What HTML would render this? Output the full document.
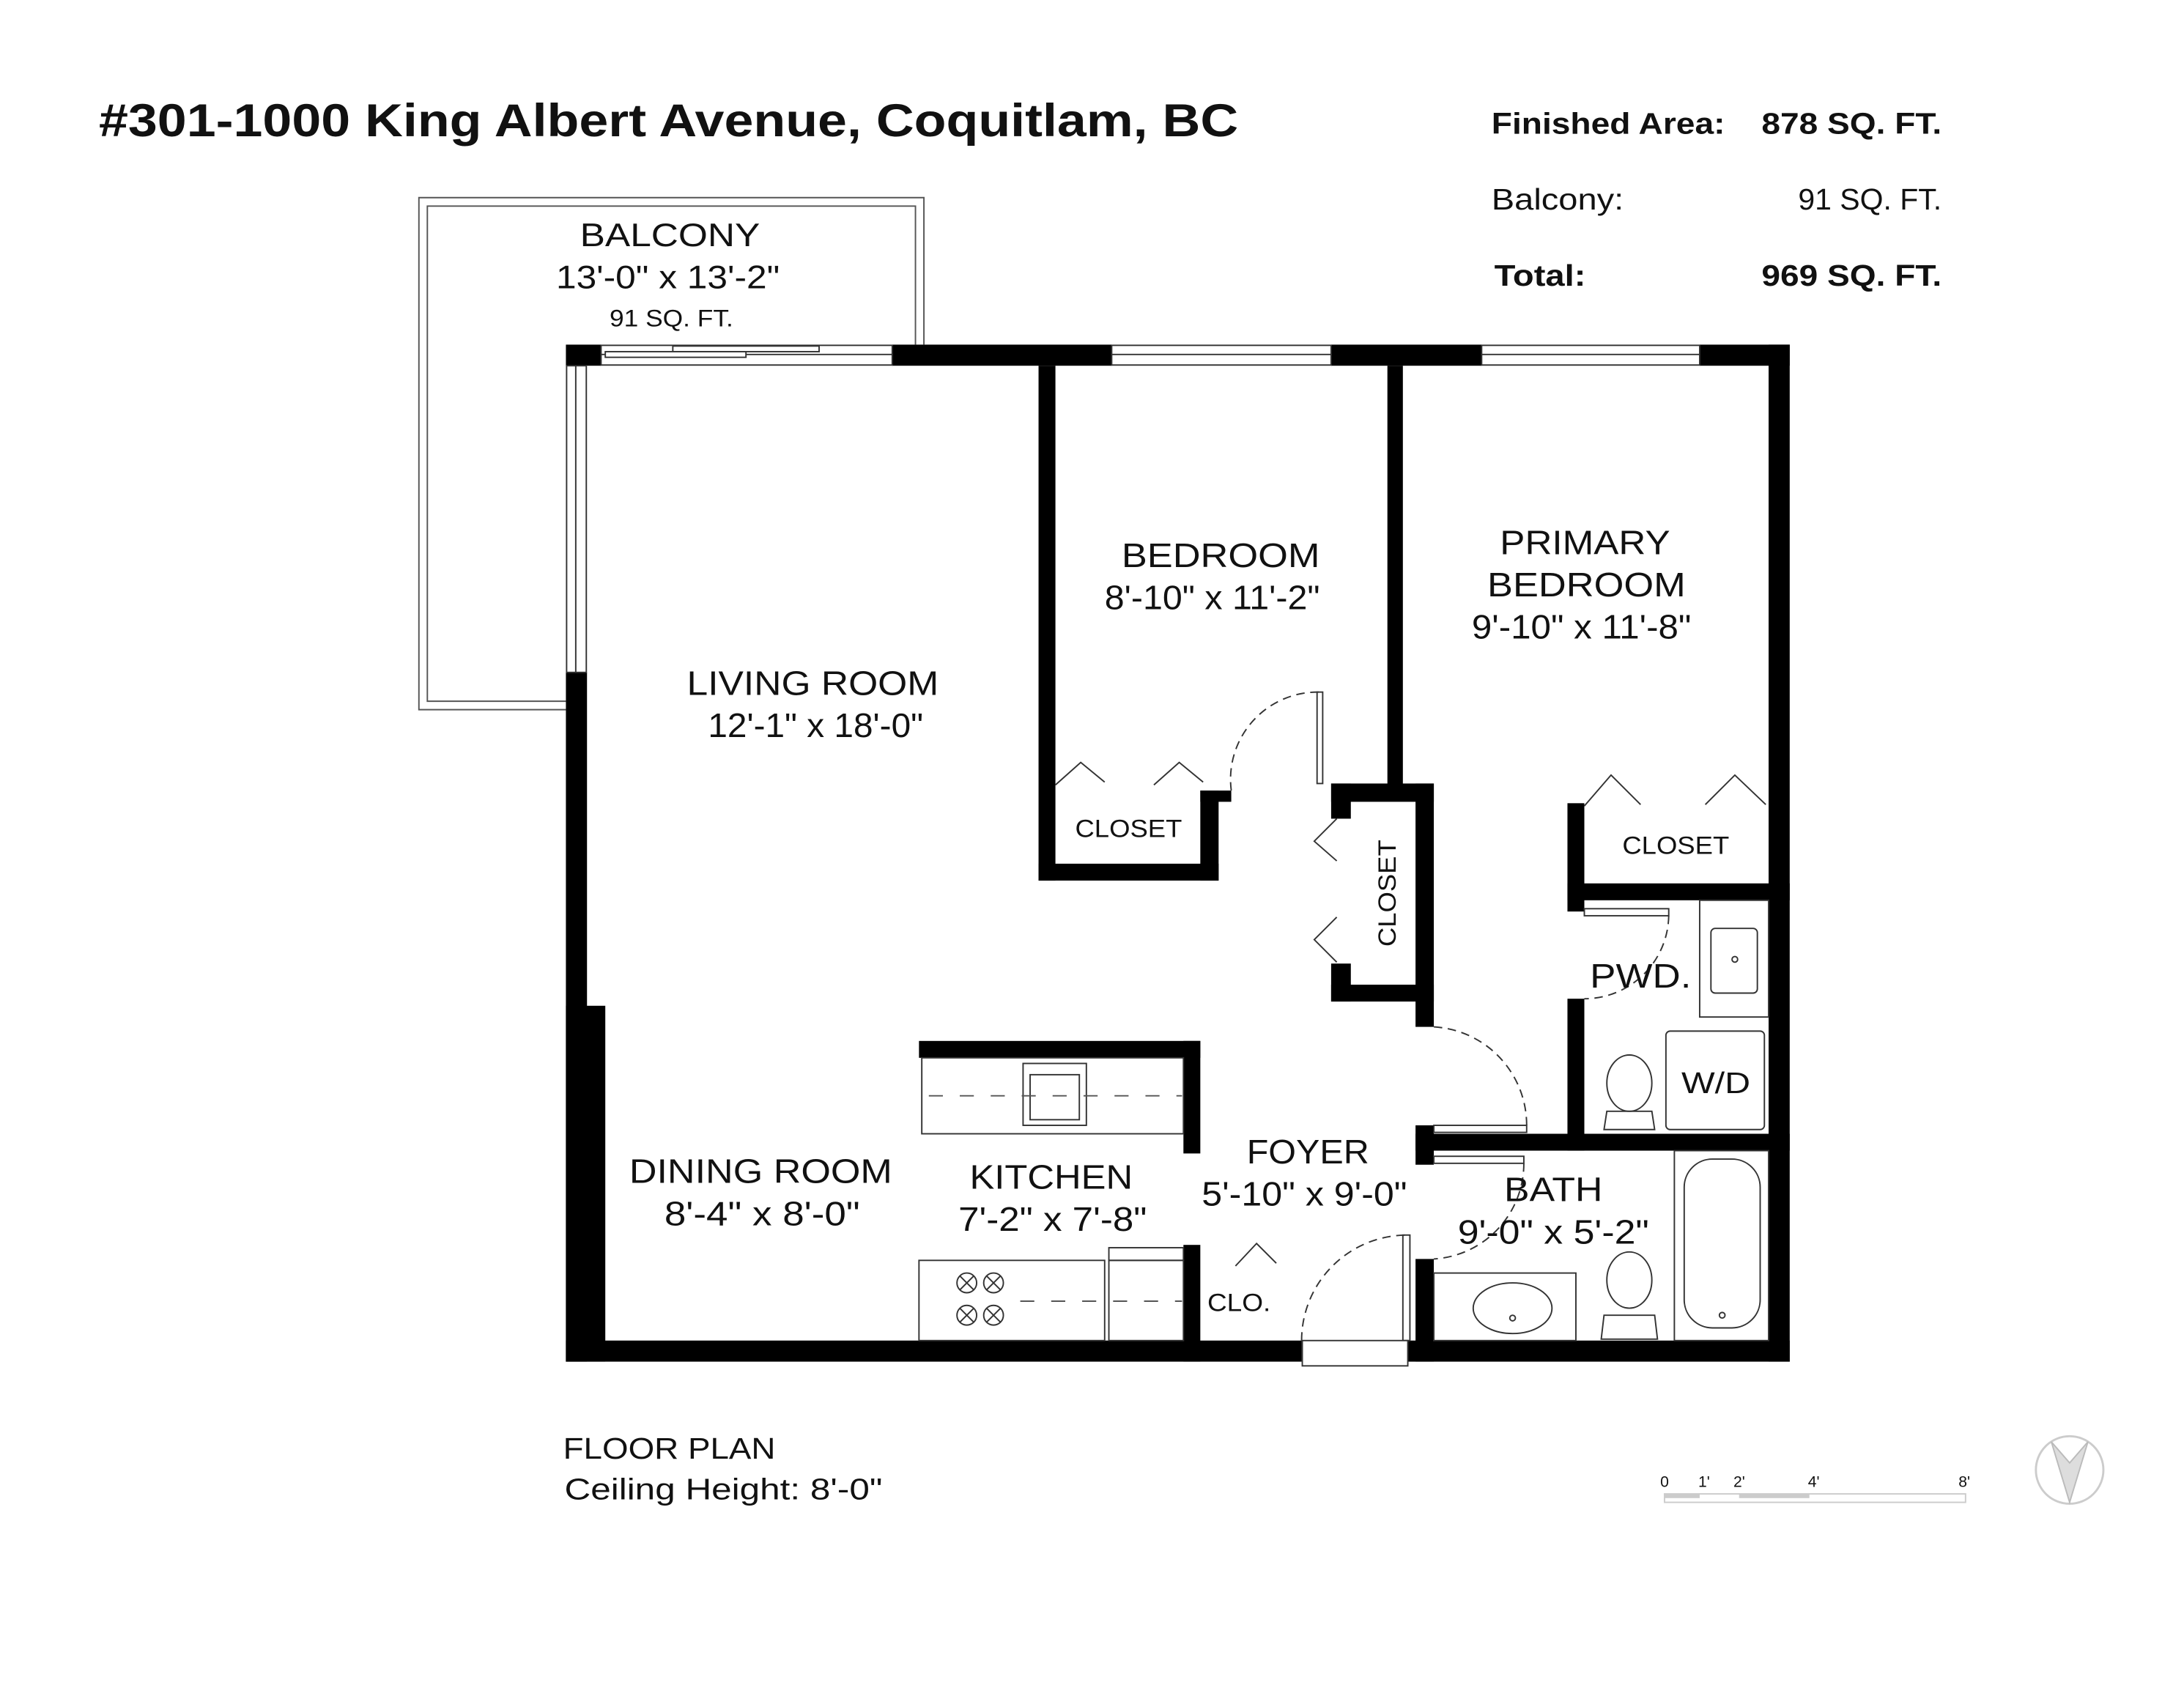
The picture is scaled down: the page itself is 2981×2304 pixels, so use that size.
<!DOCTYPE html>
<html><head><meta charset="utf-8"><style>
html,body{margin:0;padding:0;background:#fff;}
svg{display:block;}
text{font-family:"Liberation Sans",sans-serif;fill:#111;}
</style></head><body>
<svg width="2981" height="2304" viewBox="0 0 1552 1200" xmlns="http://www.w3.org/2000/svg">
<rect width="1552" height="1200" fill="#fff"/>
<!-- header -->
<text x="70" y="97" font-size="33" font-weight="bold" textLength="810" lengthAdjust="spacingAndGlyphs">#301-1000 King Albert Avenue, Coquitlam, BC</text>
<text x="1060" y="95" font-size="21" font-weight="bold" textLength="166" lengthAdjust="spacingAndGlyphs">Finished Area:</text>
<text x="1252" y="95" font-size="21" font-weight="bold" textLength="128" lengthAdjust="spacingAndGlyphs">878 SQ. FT.</text>
<text x="1060" y="149" font-size="21" fill="#444" textLength="94" lengthAdjust="spacingAndGlyphs">Balcony:</text>
<text x="1278" y="149" font-size="21" fill="#444" textLength="102" lengthAdjust="spacingAndGlyphs">91 SQ. FT.</text>
<text x="1062" y="203" font-size="21" font-weight="bold" textLength="65" lengthAdjust="spacingAndGlyphs">Total:</text>
<text x="1252" y="203" font-size="21" font-weight="bold" textLength="128" lengthAdjust="spacingAndGlyphs">969 SQ. FT.</text>

<!-- balcony -->
<path d="M402 504.5 L297.5 504.5 L297.5 140.5 L656.5 140.5 L656.5 245" fill="none" stroke="#555" stroke-width="1"/>
<path d="M402 498.5 L303.5 498.5 L303.5 146.5 L650.5 146.5 L650.5 245" fill="none" stroke="#555" stroke-width="1"/>
<text x="412" y="175" font-size="23" textLength="128" lengthAdjust="spacingAndGlyphs">BALCONY</text>
<text x="395" y="205" font-size="23" textLength="159" lengthAdjust="spacingAndGlyphs">13'-0" x 13'-2"</text>
<text x="433" y="232" font-size="17" textLength="88" lengthAdjust="spacingAndGlyphs">91 SQ. FT.</text>

<g fill="#000">
<rect x="402" y="245" width="25" height="15"/>
<rect x="634" y="245" width="156" height="15"/>
<rect x="946" y="245" width="107" height="15"/>
<rect x="1208" y="245" width="64" height="15"/>
<rect x="1257" y="245" width="15" height="723"/>
<rect x="402" y="953" width="523" height="15"/>
<rect x="1000" y="953" width="272" height="15"/>
<rect x="402" y="478" width="15" height="490"/>
<rect x="402" y="715" width="28" height="253"/>
<rect x="738" y="260" width="12" height="366"/>
<rect x="738" y="614" width="128" height="12"/>
<rect x="853" y="562" width="13" height="64"/>
<rect x="853" y="562" width="22" height="8"/>
<rect x="986" y="260" width="11" height="300"/>
<rect x="946" y="557" width="73" height="13"/>
<rect x="1006" y="557" width="13" height="173"/>
<rect x="946" y="557" width="14" height="25"/>
<rect x="946" y="685" width="14" height="27"/>
<rect x="946" y="700" width="73" height="12"/>
<rect x="1006" y="800" width="13" height="28"/>
<rect x="1006" y="895" width="13" height="73"/>
<rect x="1006" y="806" width="266" height="12"/>
<rect x="1114" y="571" width="12" height="77"/>
<rect x="1114" y="710" width="12" height="108"/>
<rect x="1114" y="628" width="158" height="12"/>
<rect x="653" y="740" width="200" height="12"/>
<rect x="841" y="740" width="12" height="80"/>
<rect x="841" y="885" width="12" height="83"/>
</g>

<g fill="#fff" stroke="#333" stroke-width="1">
<rect x="427" y="245.5" width="207" height="14"/>
<rect x="790" y="245.5" width="156" height="14"/>
<rect x="1053" y="245.5" width="155" height="14"/>
<rect x="402.5" y="260" width="14" height="218"/>
</g>
<line x1="427" y1="252" x2="634" y2="252" stroke="#333" stroke-width="1"/>
<line x1="790" y1="252" x2="946" y2="252" stroke="#333" stroke-width="1"/>
<line x1="1053" y1="252" x2="1208" y2="252" stroke="#333" stroke-width="1"/>
<line x1="409" y1="260" x2="409" y2="478" stroke="#333" stroke-width="1"/>
<rect x="478" y="246" width="104" height="4" fill="#fff" stroke="#333" stroke-width="1"/>
<rect x="430" y="250" width="100" height="4" fill="#fff" stroke="#333" stroke-width="1"/>

<g fill="none" stroke="#333" stroke-width="1">
<rect x="936" y="492" width="4" height="65" fill="#fff"/>
<path d="M875 562 A62 62 0 0 1 938 492" stroke-dasharray="6 4"/>
<rect x="1019" y="800" width="66" height="5" fill="#fff"/>
<path d="M1019 730 A70 70 0 0 1 1085 800" stroke-dasharray="6 4"/>
<rect x="1019" y="822" width="64" height="5" fill="#fff"/>
<path d="M1083 827 A68 68 0 0 1 1019 895" stroke-dasharray="6 4"/>
<rect x="1126" y="646" width="60" height="5" fill="#fff"/>
<path d="M1186 651 A60 60 0 0 1 1126 710" stroke-dasharray="6 4"/>
<rect x="997" y="878" width="5" height="75" fill="#fff"/>
<path d="M925 953 A75 75 0 0 1 1000 878" stroke-dasharray="6 4"/>
<rect x="925.5" y="953" width="75" height="18" fill="#fff"/>
<path d="M750 558 L768 542 L785 556 M820 558 L838 542 L855 556"/>
<path d="M1126 573 L1145 551 L1166 572 M1212 572 L1233 551 L1255 572"/>
<path d="M950 582 L934 598 L950 612 M950 652 L934 668 L950 684"/>
<path d="M878 900 L893 884 L907 898"/>
<rect x="655" y="752" width="186" height="54"/>
<rect x="727" y="756" width="45" height="44"/>
<rect x="732" y="764" width="35" height="32"/>
<rect x="653" y="896" width="132" height="57"/>
<rect x="788" y="896" width="53" height="57"/>
<rect x="788" y="887" width="53" height="9"/>
<rect x="1208" y="640" width="49" height="83"/>
<rect x="1216" y="660" width="33" height="46" rx="3"/>
<circle cx="1233" cy="682" r="2"/>
<rect x="1184" y="733" width="70" height="70" rx="3"/>
<ellipse cx="1158" cy="770" rx="16" ry="20"/>
<path d="M1140 803 L1142 790 L1174 790 L1176 803 Z"/>
<rect x="1019" y="905" width="101" height="48"/>
<ellipse cx="1075" cy="930" rx="28" ry="18"/>
<circle cx="1075" cy="937" r="2"/>
<ellipse cx="1158" cy="910" rx="16" ry="20"/>
<path d="M1138 952 L1140 935 L1176 935 L1178 952 Z"/>
<rect x="1190" y="818" width="67" height="135"/>
<rect x="1197" y="824" width="54" height="120" rx="20"/>
<circle cx="1224" cy="935" r="2"/>
</g>
<g stroke="#333" stroke-width="1" fill="none">
<circle cx="687" cy="912" r="7"/><circle cx="706" cy="912" r="7"/>
<circle cx="687" cy="935" r="7"/><circle cx="706" cy="935" r="7"/>
<path d="M682 907l10 10M692 907l-10 10M701 907l10 10M711 907l-10 10M682 930l10 10M692 930l-10 10M701 930l10 10M711 930l-10 10"/>
</g>
<g stroke="#555" stroke-width="1" stroke-dasharray="10 12">
<line x1="660" y1="779" x2="840" y2="779"/>
<line x1="725" y1="925" x2="840" y2="925"/>
</g>

<g font-size="24" lengthAdjust="spacingAndGlyphs">
<text x="488" y="494" textLength="179" lengthAdjust="spacingAndGlyphs">LIVING ROOM</text>
<text x="503" y="524" textLength="153" lengthAdjust="spacingAndGlyphs">12'-1" x 18'-0"</text>
<text x="797" y="403" textLength="141" lengthAdjust="spacingAndGlyphs">BEDROOM</text>
<text x="785" y="433" textLength="153" lengthAdjust="spacingAndGlyphs">8'-10" x 11'-2"</text>
<text x="1066" y="394" textLength="121" lengthAdjust="spacingAndGlyphs">PRIMARY</text>
<text x="1057" y="424" textLength="141" lengthAdjust="spacingAndGlyphs">BEDROOM</text>
<text x="1046" y="454" textLength="156" lengthAdjust="spacingAndGlyphs">9'-10" x 11'-8"</text>
<text x="447" y="841" textLength="187" lengthAdjust="spacingAndGlyphs">DINING ROOM</text>
<text x="472" y="871" textLength="139" lengthAdjust="spacingAndGlyphs">8'-4" x 8'-0"</text>
<text x="689" y="845" textLength="116" lengthAdjust="spacingAndGlyphs">KITCHEN</text>
<text x="681" y="875" textLength="134" lengthAdjust="spacingAndGlyphs">7'-2" x 7'-8"</text>
<text x="886" y="827" textLength="87" lengthAdjust="spacingAndGlyphs">FOYER</text>
<text x="854" y="857" textLength="146" lengthAdjust="spacingAndGlyphs">5'-10" x 9'-0"</text>
<text x="1069" y="854" textLength="70" lengthAdjust="spacingAndGlyphs">BATH</text>
<text x="1036" y="884" textLength="136" lengthAdjust="spacingAndGlyphs">9'-0" x 5'-2"</text>
<text x="1130" y="702" textLength="72" lengthAdjust="spacingAndGlyphs">PWD.</text>
<text x="1195" y="777" font-size="21" textLength="49" lengthAdjust="spacingAndGlyphs">W/D</text>
</g>
<g font-size="18">
<text x="764" y="595" textLength="76" lengthAdjust="spacingAndGlyphs">CLOSET</text>
<text x="1153" y="607" textLength="76" lengthAdjust="spacingAndGlyphs">CLOSET</text>
<text x="858" y="932" textLength="45" lengthAdjust="spacingAndGlyphs">CLO.</text>
<text transform="translate(992 673) rotate(-90)" textLength="76" lengthAdjust="spacingAndGlyphs">CLOSET</text>
</g>

<text x="400" y="1037" font-size="21" textLength="151" lengthAdjust="spacingAndGlyphs">FLOOR PLAN</text>
<text x="401" y="1066" font-size="21" textLength="226" lengthAdjust="spacingAndGlyphs">Ceiling Height: 8'-0"</text>
<g fill="#bbb" font-size="11">
<text x="1180" y="1057">0</text><text x="1207" y="1057">1'</text><text x="1232" y="1057">2'</text><text x="1285" y="1057">4'</text><text x="1392" y="1057">8'</text>
</g>
<rect x="1183" y="1062" width="214" height="6" fill="none" stroke="#ccc"/>
<rect x="1183" y="1062" width="25" height="3" fill="#ccc"/>
<rect x="1236" y="1062" width="50" height="3" fill="#ccc"/>
<circle cx="1471" cy="1045" r="24" fill="none" stroke="#ccc" stroke-width="1.5"/>
<path d="M1458 1025 L1471 1068 L1484 1025 L1471 1040 Z" fill="#ddd" stroke="#bbb"/>
</svg>
</body></html>
